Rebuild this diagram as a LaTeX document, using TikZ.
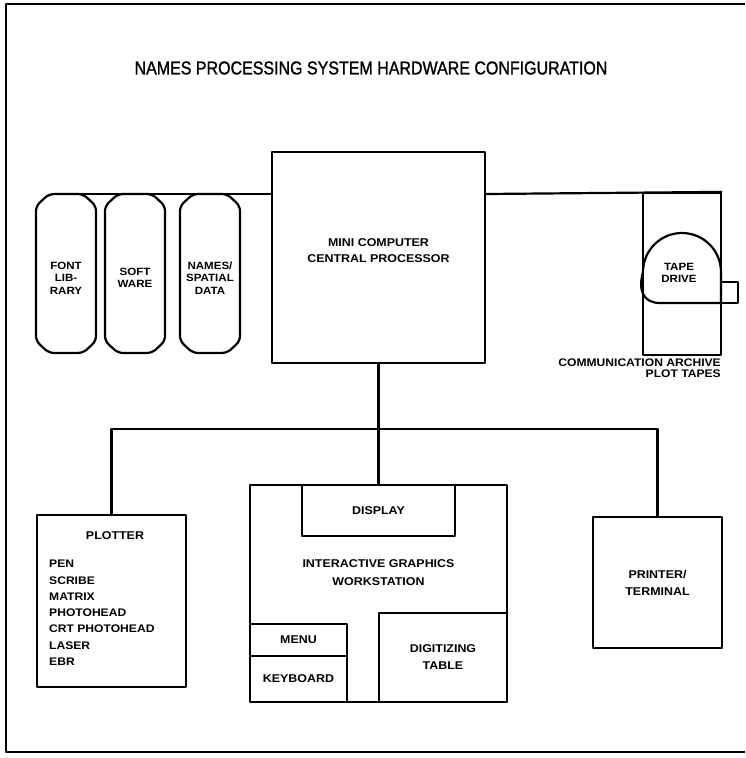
\documentclass[tikz,border=0pt]{standalone}
\usepackage{fontspec}
\setmainfont{Liberation Sans}
\newfontfamily\titlefont[FakeStretch=0.86,FakeBold=1.2]{Liberation Sans}
\newfontfamily\boxfont[FakeStretch=1.1]{Liberation Sans}
\usetikzlibrary{positioning}

\tikzset{
  unit/.style={draw, line width=2.2pt, inner sep=0pt},
  tag/.style={font=\boxfont\bfseries\fontsize{11.3}{17}\selectfont, align=center, inner sep=0pt},
  wire/.style={line width=2.2pt},
}

\begin{document}
\begin{tikzpicture}[x=1pt, y=-1pt, line join=round]
  \useasboundingbox (0,0) rectangle (745,758);

  % Frame (right edge cut off)
  \draw[line width=2.6pt] (745,4) -- (6,4) -- (6,752) -- (745,752);

  % Title
  \node[font=\titlefont\fontsize{18.6}{20}\selectfont] (title) at (371,68)
    {NAMES PROCESSING SYSTEM HARDWARE CONFIGURATION};

  % Central processor
  \node[unit, minimum width=213, minimum height=211] (cpu) at (378.5,257.5) {};
  \node[tag, font=\boxfont\bfseries\fontsize{11.3}{16}\selectfont] (cpulbl) at (378.5,251)
    {MINI COMPUTER\\CENTRAL PROCESSOR};

  % Storage drums
  \foreach \x/\name/\txt in {66/fontlib/{FONT\\LIB-\\RARY}, 135/soft/{SOFT\\WARE}, 210/names/{NAMES/\\SPATIAL\\DATA}}{
    \draw[wire, rounded corners=5pt] (\x-30,274) -- (\x-30,206) -- (\x-17,194) -- (\x+17,194)
      -- (\x+30,206) -- (\x+30,341) -- (\x+17,353) -- (\x-17,353) -- (\x-30,341) -- cycle;
    \node[tag, font=\boxfont\bfseries\fontsize{10.5}{12.5}\selectfont] (\name) at (\x,278) {\txt};
  }

  % Tape unit
  \node[unit, minimum width=78, minimum height=162] (tape) at (682,274) {};
  \draw[wire] (721,303) -- (721,272) arc[start angle=0, end angle=-180, radius=39]
    .. controls (638,290) and (643,303) .. (660,303) -- cycle;
  \node[unit, minimum width=17, minimum height=21] (reel) at (729.5,292.5) {};
  \node[tag, font=\boxfont\bfseries\fontsize{10.5}{12}\selectfont] (drive) at (679,273) {TAPE\\DRIVE};
  \node[tag, align=right, anchor=east, font=\boxfont\bfseries\fontsize{11}{11}\selectfont] (comm) at (721,368)
    {COMMUNICATION ARCHIVE\\PLOT TAPES};

  % Upper bus
  \coordinate (busstart) at (56,194);
  \draw[wire] (busstart) -- (cpu.west |- busstart);
  \draw[wire] (cpu.east |- busstart) -- (tape.north east);

  % Plotter
  \node[unit, minimum width=149, minimum height=172] (plotter) at (111.5,601) {};
  \node[tag] (plottitle) at (115,536) {PLOTTER};
  \node[tag, align=left, anchor=north west, font=\boxfont\bfseries\fontsize{11}{16.3}\selectfont] (plotlist) at (49,560)
    {PEN\\SCRIBE\\MATRIX\\PHOTOHEAD\\CRT PHOTOHEAD\\LASER\\EBR};

  % Workstation
  \node[unit, minimum width=257, minimum height=217] (ws) at (378.5,593.5) {};
  \node[unit, tag, minimum width=153, minimum height=51] (display) at (378.5,510.5) {DISPLAY};
  \node[tag, font=\boxfont\bfseries\fontsize{11.3}{18}\selectfont] (wslbl) at (378.5,573)
    {INTERACTIVE GRAPHICS\\WORKSTATION};
  \node[unit, tag, minimum width=97, minimum height=32] (menu) at (298.5,640) {MENU};
  \node[unit, tag, minimum width=97, minimum height=46] (keyboard) at (298.5,679) {KEYBOARD};
  \node[unit, tag, minimum width=128, minimum height=89] (digitizer) at (443,657.5) {DIGITIZING\\TABLE};

  % Printer
  \node[unit, tag, minimum width=129, minimum height=131] (printer) at (657.5,582.5) {PRINTER/\\TERMINAL};

  % Lower bus
  \coordinate (hub) at (378.5,429);
  \draw[wire] (cpu.south) -- (display.north);
  \draw[wire] (plotter.north) |- (hub) -| (printer.north);

\end{tikzpicture}
\end{document}
